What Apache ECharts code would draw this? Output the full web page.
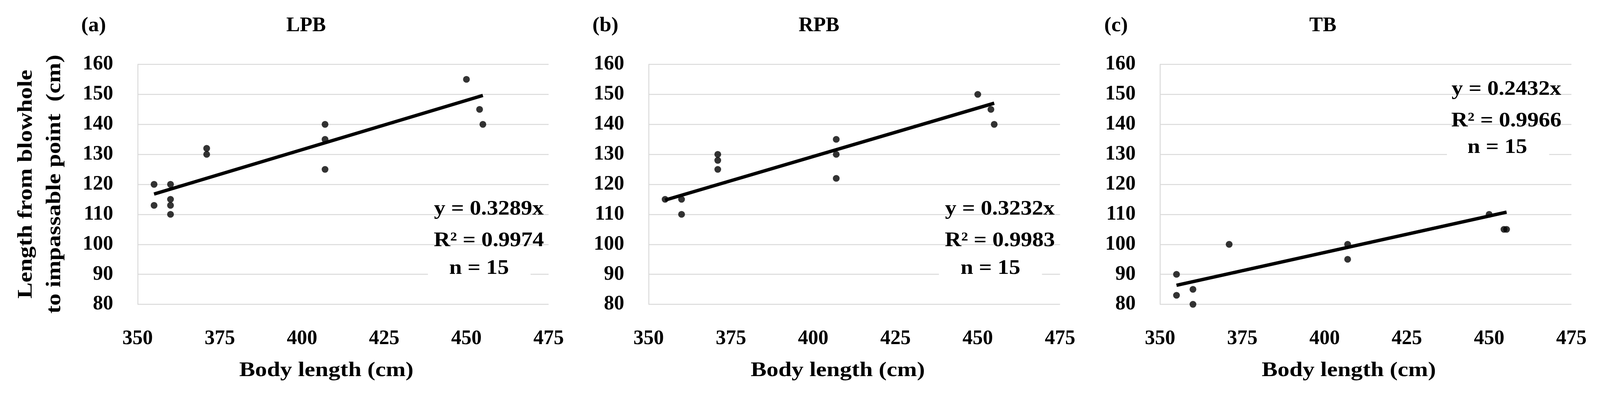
<!DOCTYPE html>
<html><head><meta charset="utf-8">
<script src="https://cdn.jsdelivr.net/npm/echarts@6/dist/echarts.min.js"></script>
<style>html,body{margin:0;padding:0;background:#fff;overflow:hidden}#c{width:100vw;height:100vh}</style>
</head><body><div id="c"></div>
<script>
// ---- data ----
const panelLabels = ['(a)', '(b)', '(c)'];
const panelTitles = ['LPB', 'RPB', 'TB'];
const xAxisName = 'Body length (cm)';
const yAxisNameLines = ['Length from blowhole', 'to impassable point  (cm)'];
const xMin = 350, xMax = 475, xStep = 25;
const yMin = 80, yMax = 160, yStep = 10;

const lpbBody = [355, 355, 360, 360, 360, 360, 371, 371, 407, 407, 407, 450, 454, 455];
const lpbLen  = [120, 113, 120, 115, 113, 110, 132, 130, 140, 135, 125, 155, 145, 140];
const rpbBody = [355, 360, 360, 371, 371, 371, 407, 407, 407, 450, 454, 455];
const rpbLen  = [115, 115, 110, 130, 128, 125, 135, 130, 122, 150, 145, 140];
const tbBody  = [355, 355, 360, 360, 371, 407, 407, 450, 454.5, 455.3];
const tbLen   = [90, 83, 85, 80, 100, 100, 95, 110, 105, 105];

const slopes = ['0.3289', '0.3232', '0.2432'];
const r2 = ['0.9974', '0.9983', '0.9966'];
const nCounts = ['15', '15', '15'];

// ---- layout (reference pixel space 4255 x 1015) ----
const el = document.getElementById('c');
const chart = echarts.init(el, null, {renderer: 'canvas'});
const W = chart.getWidth(), H = chart.getHeight();
const sx = W / 4255, sy = H / 1015, s = Math.min(sx, sy);
const FONT = '"Liberation Serif", "Times New Roman", serif';
const FS = 54;
const font = (k) => 'bold ' + Math.round(FS * s * (k || 1)) + 'px ' + FONT;
const WIDE = 1.17; // reference serif is wider than Liberation Serif for letters

const gridPx = [
  {l: 366, r: 1459},
  {l: 1725, r: 2819},
  {l: 3085, r: 4179}
];
const gTop = 165, gBottom = 780;
const titleX = [814, 2178, 3518];
const labelX = [249, 1610, 2968];
const xNameX = [868, 2228, 3587];
const annot = [
  {cx: 1300, ncx: 1274, y: [537, 618, 689], box: [1138, 640, 1411, 722]},
  {cx: 2659, ncx: 2634, y: [537, 618, 689], box: [2497, 640, 2771, 722]},
  {cx: 4006, ncx: 3982, y: [230, 311, 379], box: [3848, 332, 4120, 412]}
];

const bodies = [lpbBody, rpbBody, tbBody];
const lens = [lpbLen, rpbLen, tbLen];

const grids = [], xAxes = [], yAxes = [], series = [], graphic = [];
const axisFont = {color: '#000', fontFamily: FONT, fontWeight: 'bold', fontSize: Math.round(FS * s)};
gridPx.forEach((g, i) => {
  grids.push({left: g.l * sx, top: gTop * sy, width: (g.r - g.l) * sx, height: (gBottom - gTop) * sy});
  xAxes.push({
    type: 'value', gridIndex: i, min: xMin, max: xMax, interval: xStep,
    axisLine: {show: false}, axisTick: {show: false}, splitLine: {show: false},
    axisLabel: Object.assign({margin: 63 * sy}, axisFont)
  });
  yAxes.push({
    type: 'value', gridIndex: i, min: yMin, max: yMax, interval: yStep,
    axisLine: {show: true, lineStyle: {color: '#d9d9d9', width: 2.5 * s}},
    axisTick: {show: false},
    splitLine: {show: true, lineStyle: {color: '#d9d9d9', width: 2.5 * s}},
    axisLabel: Object.assign({margin: 65 * sx}, axisFont)
  });
  const pts = bodies[i].map((b, k) => [b, lens[i][k]]);
  series.push({
    type: 'scatter', xAxisIndex: i, yAxisIndex: i, data: pts,
    symbol: 'circle', symbolSize: 18 * s, itemStyle: {color: '#000'}, z: 3
  });
  const lo = Math.min(...bodies[i]), hi = Math.max(...bodies[i]);
  const k = parseFloat(slopes[i]);
  series.push({
    type: 'line', xAxisIndex: i, yAxisIndex: i,
    data: [[lo, k * lo], [hi, k * hi]],
    symbol: 'none', lineStyle: {color: '#000', width: 9 * s}, z: 4, silent: true
  });
  const txt = (str, x, y, scale) => ({
    type: 'text', x: x * sx, y: y * sy, scaleX: scale || 1, z: 20,
    style: {text: str, font: font(), fill: '#000', align: 'center', verticalAlign: 'middle'}
  });
  graphic.push(txt(panelTitles[i], titleX[i], 67, 1));
  graphic.push(txt(panelLabels[i], labelX[i], 67, 1.05));
  graphic.push(txt(xAxisName, xNameX[i], 951, WIDE));
  const a = annot[i];
  graphic.push({
    type: 'rect', z: 15,
    shape: {x: a.box[0] * sx, y: a.box[1] * sy, width: (a.box[2] - a.box[0]) * sx, height: (a.box[3] - a.box[1]) * sy},
    style: {fill: '#fff'}
  });
  graphic.push(txt('y = ' + slopes[i] + 'x', a.cx, a.y[0], 1.12));
  graphic.push(txt('R² = ' + r2[i], a.cx, a.y[1], 1.12));
  graphic.push(txt('n = ' + nCounts[i], a.ncx, a.y[2], 1.12));
});
graphic.push({
  type: 'text', x: 108 * sx, y: 472 * sy, rotation: Math.PI / 2, scaleX: 1.19, z: 20,
  style: {
    text: yAxisNameLines.join('\n'), font: font(), fill: '#000',
    align: 'center', verticalAlign: 'middle', lineHeight: 75 * s
  }
});

chart.setOption({
  animation: false,
  backgroundColor: '#fff',
  grid: grids,
  xAxis: xAxes,
  yAxis: yAxes,
  series: series,
  graphic: graphic
});
</script>
</body></html>
